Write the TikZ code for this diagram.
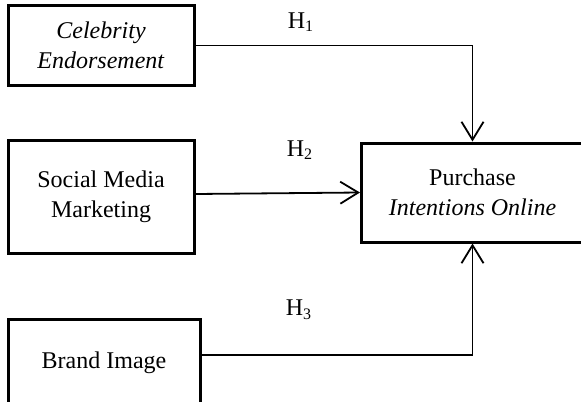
\documentclass[tikz,border=0pt]{standalone}
\usepackage{fontspec}
\setmainfont{Liberation Serif}
\usetikzlibrary{arrows.meta}
\tikzset{
  var/.style={draw, line width=1.5pt, align=center, inner sep=0pt,
    font=\fontsize{12}{15}\selectfont},
  hyp/.style={inner sep=0pt, font=\fontsize{12}{14}\selectfont},
  link/.style={line width=0.9pt, -{Straight Barb[length=9pt,width=11pt]}},
}
\begin{document}
\begin{tikzpicture}[x=0.5pt,y=-0.5pt]
  \useasboundingbox (0,0) rectangle (581,401);
  \node[var, minimum width=93pt, minimum height=39.5pt] (celeb) at (101,45.5) {\textit{Celebrity}\\\textit{Endorsement}};
  \node[var, minimum width=93pt, minimum height=56.5pt] (social) at (101,196.5) {Social Media\\Marketing};
  \node[var, minimum width=96pt, minimum height=43.5pt] (brand) at (104,362.5) {Brand Image};
  \node[var, minimum width=111pt, minimum height=49.5pt] (purch) at (472.5,192.5) {Purchase\\\textit{Intentions Online}};

  \node[hyp] (h1) at (301,22) {H\textsubscript{1}};
  \node[hyp] (h2) at (300,150) {H\textsubscript{2}};
  \node[hyp] (h3) at (299,310) {H\textsubscript{3}};

  \draw[link] (celeb.east) -| (purch.north);
  \draw[link] ([yshift=1.25pt]social.east) -- (purch.west);
  \draw[link] ([yshift=3.75pt]brand.east) -| (purch.south);
\end{tikzpicture}
\end{document}
